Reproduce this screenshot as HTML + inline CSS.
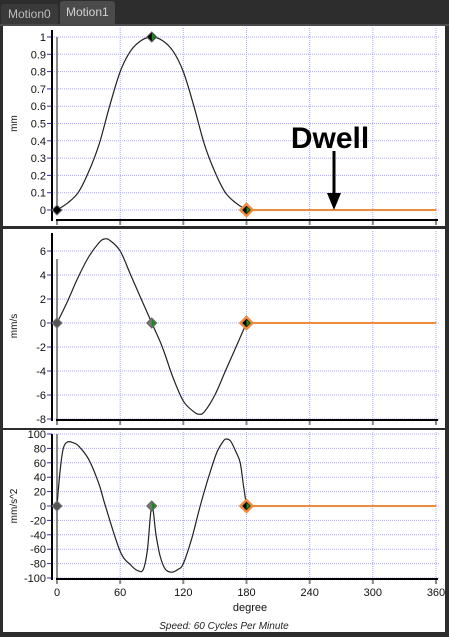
<!DOCTYPE html>
<html><head><meta charset="utf-8"><style>
body{margin:0;background:#2d2d2d;width:449px;height:637px;overflow:hidden;font-family:"Liberation Sans",sans-serif}
svg{display:block}
</style></head><body>
<svg id="c" width="449" height="637" xmlns="http://www.w3.org/2000/svg">
<rect x="0" y="0" width="449" height="637" fill="#2d2d2d"/>
<g><rect x="1" y="4" width="57" height="21" rx="3" fill="#3a3a3a"/><text x="8" y="18" font-size="12" fill="#bdbdbd">Motion0</text></g>
<g><rect x="60" y="1" width="55" height="24" rx="3" fill="#4b4b4b"/><text x="66" y="16" font-size="12" fill="#d0d0d0">Motion1</text></g>
<rect x="0" y="24" width="449" height="2" fill="#4b4b4b"/>
</svg>
<script>
const xTicks=[0,60,120,180,240,300,360];
const posDeg=[0,10,20,30,40,50,60,70,80,90,100,110,120,130,140,150,160,170,180];
const posVal=[0,0.04,0.1,0.22,0.38,0.6,0.8,0.92,0.98,1,0.98,0.92,0.8,0.6,0.38,0.22,0.1,0.04,0];
const velDeg=[0,10,20,30,40,45,50,60,70,80,90,100,110,120,130,135,140,150,160,170,180];
const velVal=[0,1.8,3.8,5.5,6.7,7,6.9,6,4,2,0,-2,-4.5,-6.5,-7.4,-7.6,-7.4,-6,-4,-2,0];
const accDeg=[0,3,6,10,15,20,30,40,46,60,70,77,82,86,90,94,98,103,109,115,120,128,136,145,152,158,161,165,170,174,177,180];
const accVal=[0,50,80,89,88,84,65,30,0,-63,-82,-90,-88,-60,0,-40,-70,-88,-92,-88,-80,-45,0,45,75,90,93,90,75,60,30,0];
const posTicks=[0,0.1,0.2,0.3,0.4,0.5,0.6,0.7,0.8,0.9,1];
const velTicks=[-8,-6,-4,-2,0,2,4,6];
const accTicks=[-100,-80,-60,-40,-20,0,20,40,60,80,100];
const NS="http://www.w3.org/2000/svg";const svg=document.getElementById('c');
function mk(t,a,p){const e=document.createElementNS(NS,t);for(const k in a)e.setAttribute(k,a[k]);(p||svg).appendChild(e);return e;}
const X=d=>57+d*(379/360);
function smooth(pts){let d='M'+pts[0][0].toFixed(1)+','+pts[0][1].toFixed(1);
 for(let i=0;i<pts.length-1;i++){const p0=pts[Math.max(0,i-1)],p1=pts[i],p2=pts[i+1],p3=pts[Math.min(pts.length-1,i+2)];
  const c1=[p1[0]+(p2[0]-p0[0])/6,p1[1]+(p2[1]-p0[1])/6],c2=[p2[0]-(p3[0]-p1[0])/6,p2[1]-(p3[1]-p1[1])/6];
  d+=`C${c1[0].toFixed(1)},${c1[1].toFixed(1)} ${c2[0].toFixed(1)},${c2[1].toFixed(1)} ${p2[0].toFixed(1)},${p2[1].toFixed(1)}`;}
 return d;}
function panel(name,top,bot,vmin,vmax,yTop,yBot,ticks,unit,deg,val,mid,showX){
 const g=mk('g',{});
 mk('rect',{x:3,y:top,width:442,height:bot-top,fill:'#fff'},g);
 const Y=v=>yBot-(v-vmin)/(vmax-vmin)*(yBot-yTop);
 const axY=showX?Y(vmin)+1:bot-6;
 ticks.forEach(t=>{const y=Y(t);
  const l=mk('line',{x1:52,x2:440,y1:y,y2:y,stroke:'#a8a8ff','stroke-width':1,'stroke-dasharray':'1,1'},g);
  mk('line',{x1:47,x2:52,y1:y,y2:y,stroke:'#3333aa'},g);
  const tx=mk('text',{x:46,y:y+4,'font-size':11,'text-anchor':'end',fill:'#111'},g);tx.textContent=String(t);});
 xTicks.forEach(t=>{if(t===0)return;mk('line',{x1:X(t),x2:X(t),y1:top+2,y2:axY,stroke:'#a8a8ff','stroke-dasharray':'1,1'},g);});
 mk('line',{x1:52,x2:52,y1:top+4,y2:axY+1,stroke:'#000','stroke-width':2},g);
 mk('line',{x1:57,x2:57,y1:Y(ticks[ticks.length-1])+(name==='velocity'?8:0),y2:Y(vmin),stroke:'#888','stroke-width':2},g);
 const ax=mk('line',{x1:56,x2:438,y1:axY,y2:axY,stroke:'#000','stroke-width':2},g);
 xTicks.forEach(t=>mk('line',{x1:X(t),x2:X(t),y1:axY+1,y2:axY+5,stroke:'#888','stroke-width':2},g));
 const lab=mk('text',{x:0,y:0,'font-size':10,'text-anchor':'middle',fill:'#111',transform:`translate(17,${(yTop+yBot)/2}) rotate(-90)`},g);lab.textContent=unit;
 const dl=mk('line',{x1:X(180),x2:X(360),y1:Y(0),y2:Y(0),stroke:'#f08a3c','stroke-width':2},g);
 const pts=deg.map((v,i)=>[X(v),Y(val[i])]);
 const c=mk('path',{d:smooth(pts),fill:'none',stroke:'#222','stroke-width':1.2,'stroke-linejoin':'round'},g);
 function dia(x,y,r,fill,stroke,sw){const p=mk('path',{d:`M${x-r},${y}L${x},${y-r}L${x+r},${y}L${x},${y+r}Z`,fill:fill,stroke:stroke,'stroke-width':sw},g);return p;}
 dia(X(0),Y(0),5,name==='position'?'#000':'#555','#777',1);
 const mv=val[deg.indexOf(90)];dia(X(90),Y(mv),5,mid,'#666',1);mk('path',{d:`M${X(90)},${Y(mv)-4}L${X(90)+4},${Y(mv)}L${X(90)},${Y(mv)+4}Z`,fill:'#1a8a1a'},g);
 dia(X(180),Y(0),6,'#000','#f08a3c',2.5);mk('path',{d:`M${X(180)},${Y(0)-3.5}L${X(180)+3.5},${Y(0)}L${X(180)},${Y(0)+3.5}Z`,fill:'#1a8a1a'},g);
 return {Y,axY};
}
panel('position',26,226,0,1,37,210,posTicks,'mm',posDeg,posVal,'#000',false);
panel('velocity',229,428,-8,7.5,233,419,velTicks,'mm/s',velDeg,velVal,'#777',true);
panel('acceleration',430,632,-100,100,434,578,accTicks,'mm/s^2',accDeg,accVal,'#777',true);
xTicks.forEach(t=>{const tx=mk('text',{x:X(t),y:596,'font-size':11,'text-anchor':'middle',fill:'#111'});tx.textContent=String(t);

});
const xt=mk('text',{x:250,y:611,'font-size':11,'text-anchor':'middle',fill:'#111'});xt.textContent='degree';


const sp=mk('text',{x:224,y:629,'font-size':10,'font-style':'italic','text-anchor':'middle',fill:'#222'});sp.textContent='Speed: 60 Cycles Per Minute';


const dw=mk('text',{x:330,y:148,'font-size':30,'font-weight':'bold','text-anchor':'middle',fill:'#000'});dw.textContent='Dwell';


const ar=mk('g',{});


mk('line',{x1:334,x2:334,y1:151,y2:196,stroke:'#000','stroke-width':3},ar);
mk('path',{d:'M327,193L341,193L334,210Z',fill:'#000'},ar);
</script>
</body></html>
